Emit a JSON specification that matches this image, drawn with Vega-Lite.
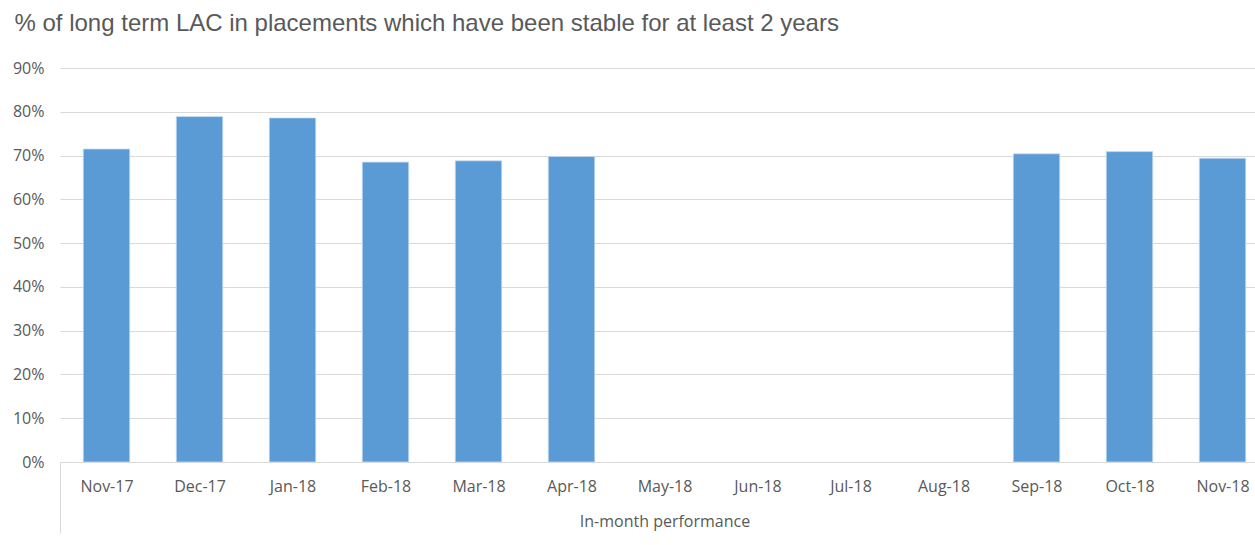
{
  "$schema": "https://vega.github.io/schema/vega-lite/v6.json",
  "autosize": {"type": "none"},
  "padding": {"left": 60, "top": 68, "right": 0, "bottom": 83},
  "width": 1209,
  "height": 394,
  "background": "white",
  "title": {
    "text": "% of long term LAC in placements which have been stable for at least 2 years",
    "anchor": "start",
    "frame": "bounds",
    "font": "Liberation Sans",
    "fontSize": 24,
    "fontWeight": "normal",
    "color": "#595959",
    "offset": 24,
    "dx": 2
  },
  "data": {
    "values": [
      {"month": "Nov-17", "value": 0.715},
      {"month": "Dec-17", "value": 0.789},
      {"month": "Jan-18", "value": 0.786},
      {"month": "Feb-18", "value": 0.685},
      {"month": "Mar-18", "value": 0.688},
      {"month": "Apr-18", "value": 0.698},
      {"month": "May-18", "value": null},
      {"month": "Jun-18", "value": null},
      {"month": "Jul-18", "value": null},
      {"month": "Aug-18", "value": null},
      {"month": "Sep-18", "value": 0.704},
      {"month": "Oct-18", "value": 0.709},
      {"month": "Nov-18", "value": 0.694}
    ]
  },
  "mark": {"type": "bar", "color": "#5B9BD5", "stroke": "#c9ddf1", "strokeWidth": 0.75},
  "encoding": {
    "x": {
      "field": "month",
      "type": "nominal",
      "sort": null,
      "scale": {
        "domain": ["Nov-17", "Dec-17", "Jan-18", "Feb-18", "Mar-18", "Apr-18", "May-18", "Jun-18", "Jul-18", "Aug-18", "Sep-18", "Oct-18", "Nov-18"],
        "paddingInner": 0.5,
        "paddingOuter": 0.25
      },
      "axis": {
        "title": "In-month performance",
        "titleFont": "Open Sans",
        "titleFontSize": 16,
        "titleFontWeight": "normal",
        "titleColor": "#595959",
        "titleBaseline": "top",
        "titlePadding": -20,
        "labelAngle": 0,
        "labelFont": "Open Sans",
        "labelFontSize": 16,
        "labelColor": "#595959",
        "labelPadding": -55,
        "domainColor": "#d9d9d9",
        "domainWidth": 1,
        "grid": false,
        "ticks": true,
        "tickOffset": -46.5,
        "labelOffset": 46.5,
        "tickSize": 71,
        "tickWidth": 1,
        "tickColor": {"condition": {"test": "datum.value === 'Nov-17'", "value": "#d9d9d9"}, "value": "transparent"}
      }
    },
    "y": {
      "field": "value",
      "type": "quantitative",
      "scale": {"domain": [0, 0.9], "nice": false},
      "axis": {
        "title": null,
        "values": [0, 0.1, 0.2, 0.3, 0.4, 0.5, 0.6, 0.7, 0.8, 0.9],
        "format": ".0%",
        "labelFont": "Open Sans",
        "labelFontSize": 16,
        "labelColor": "#595959",
        "labelPadding": 16,
        "domain": false,
        "ticks": false,
        "grid": true,
        "gridColor": "#d9d9d9",
        "gridWidth": 1
      }
    }
  },
  "config": {
    "view": {"stroke": null}
  }
}
